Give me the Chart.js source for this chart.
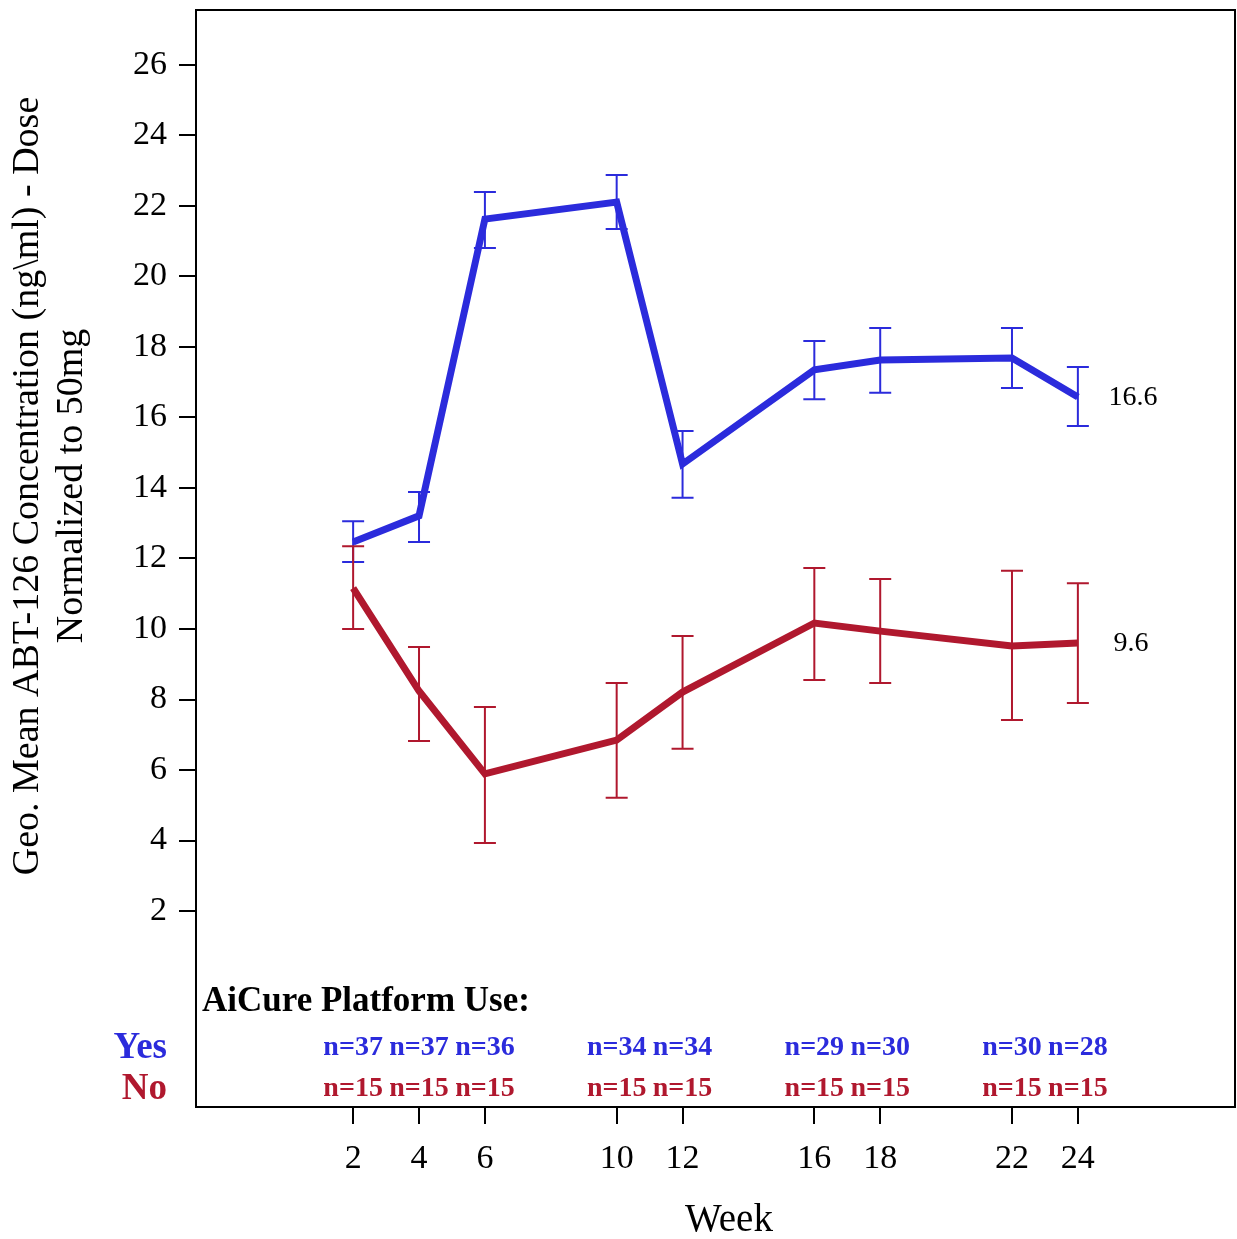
<!DOCTYPE html>
<html>
<head>
<meta charset="utf-8">
<script src="https://cdn.jsdelivr.net/npm/chart.js@4"></script>
<style>
  html, body { margin: 0; padding: 0; background: #fff; }
</style>
</head>
<body>
<canvas id="chart" width="1237" height="1239"></canvas>
<script>
const weeks = [2, 4, 6, 10, 12, 16, 18, 22, 24];
const yesMean = [12.47, 13.21, 21.63, 22.11, 14.68, 17.35, 17.63, 17.69, 16.58];
const yesUpper = [13.06, 13.89, 22.4, 22.88, 15.62, 18.17, 18.54, 18.54, 17.43];
const yesLower = [11.9, 12.47, 20.81, 21.35, 13.72, 16.52, 16.7, 16.84, 15.76];
const noMean = [11.16, 8.24, 5.89, 6.85, 8.21, 10.17, 9.94, 9.52, 9.6];
const noUpper = [12.35, 9.49, 7.79, 8.47, 9.8, 11.73, 11.42, 11.65, 11.3];
const noLower = [10.0, 6.82, 3.93, 5.21, 6.6, 8.55, 8.47, 7.42, 7.9];
const yesN = [37, 37, 36, 34, 34, 29, 30, 30, 28];
const noN = [15, 15, 15, 15, 15, 15, 15, 15, 15];
const yTicks = [2, 4, 6, 8, 10, 12, 14, 16, 18, 20, 22, 24, 26];
const endLabels = ["16.6", "9.6"];

const BLUE = "rgb(43, 43, 220)";
const RED = "rgb(176, 24, 46)";
const SERIF = "'Liberation Serif', 'Times New Roman', serif";

// エラーバー・枠・注記
const extras = {
  id: "extras",
  beforeDatasetsDraw(chart) {
    const ctx = chart.ctx;
    const xs = chart.scales.x, ys = chart.scales.y;
    const bars = [[yesUpper, yesLower, BLUE], [noUpper, noLower, RED]];
    ctx.save();
    ctx.lineWidth = 2;
    bars.forEach(([up, lo, col]) => {
      ctx.strokeStyle = col;
      weeks.forEach((w, i) => {
        const x = xs.getPixelForValue(w);
        const y1 = ys.getPixelForValue(up[i]);
        const y2 = ys.getPixelForValue(lo[i]);
        ctx.beginPath();
        ctx.moveTo(x, y1); ctx.lineTo(x, y2);
        ctx.moveTo(x - 11, y1); ctx.lineTo(x + 11, y1);
        ctx.moveTo(x - 11, y2); ctx.lineTo(x + 11, y2);
        ctx.stroke();
      });
    });
    ctx.restore();
  },
  afterDraw(chart) {
    const ctx = chart.ctx;
    const a = chart.chartArea;
    const xs = chart.scales.x, ys = chart.scales.y;
    ctx.save();
    ctx.strokeStyle = "#000";
    ctx.lineWidth = 2;
    ctx.strokeRect(a.left, a.top, a.right - a.left, a.bottom - a.top);

    // end labels
    ctx.fillStyle = "#000";
    ctx.font = "28px " + SERIF;
    ctx.textAlign = "center";
    ctx.textBaseline = "middle";
    const last = weeks.length - 1;
    ctx.fillText(endLabels[0], 1133, ys.getPixelForValue(yesMean[last]) + 1);
    ctx.fillText(endLabels[1], 1131, ys.getPixelForValue(noMean[last]) + 1);

    // n table
    ctx.font = "bold 35px " + SERIF;
    ctx.textAlign = "left";
    ctx.fillText("AiCure Platform Use:", 202, 1002);
    ctx.textAlign = "right";
    ctx.font = "bold 37px " + SERIF;
    ctx.fillStyle = BLUE;
    ctx.fillText("Yes", 167, 1048);
    ctx.fillStyle = RED;
    ctx.fillText("No", 167, 1089);
    ctx.font = "bold 28px " + SERIF;
    ctx.textAlign = "center";
    weeks.forEach((w, i) => {
      const x = xs.getPixelForValue(w);
      ctx.fillStyle = BLUE;
      ctx.fillText("n=" + yesN[i], x, 1048);
      ctx.fillStyle = RED;
      ctx.fillText("n=" + noN[i], x, 1089);
    });

    // axis titles
    ctx.fillStyle = "#000";
    ctx.font = "39px " + SERIF;
    ctx.fillText("Week", 729, 1221);
    ctx.font = "38px " + SERIF;
    ctx.translate(28, 486);
    ctx.rotate(-Math.PI / 2);
    ctx.fillText("Geo. Mean ABT-126 Concentration (ng\\ml) - Dose", 0, 0);
    ctx.fillText("Normalized to 50mg", 0, 44);
    ctx.restore();
  },
};

new Chart(document.getElementById("chart"), {
  type: "line",
  data: {
    datasets: [
      {
        label: "Yes",
        data: weeks.map((w, i) => ({ x: w, y: yesMean[i] })),
        borderColor: BLUE,
        borderWidth: 7,
        pointRadius: 0,
        tension: 0,
      },
      {
        label: "No",
        data: weeks.map((w, i) => ({ x: w, y: noMean[i] })),
        borderColor: RED,
        borderWidth: 7,
        pointRadius: 0,
        tension: 0,
      },
    ],
  },
  options: {
    responsive: false,
    animation: false,
    layout: { padding: { top: 10, right: 2, left: 0, bottom: 0 } },
    plugins: {
      legend: { display: false },
      tooltip: { enabled: false },
    },
    scales: {
      x: {
        type: "linear",
        min: -2.77,
        max: 28.77,
        afterFit: (s) => { s.height = 132; s.paddingLeft = 0; s.paddingRight = 0; },
        afterBuildTicks: (s) => { s.ticks = weeks.map((v) => ({ value: v })); },
        border: { display: false },
        grid: { drawOnChartArea: false, drawTicks: true, tickLength: 17, color: "#000", lineWidth: 2 },
        ticks: { color: "#000", font: { family: SERIF, size: 34 }, padding: 15, maxRotation: 0, autoSkip: false },
      },
      y: {
        min: -3.56,
        max: 27.56,
        afterFit: (s) => { s.width = 196; s.paddingTop = 0; s.paddingBottom = 0; },
        afterBuildTicks: (s) => { s.ticks = yTicks.map((v) => ({ value: v })); },
        border: { display: false },
        grid: { drawOnChartArea: false, drawTicks: true, tickLength: 17, color: "#000", lineWidth: 2 },
        ticks: { color: "#000", font: { family: SERIF, size: 34 }, padding: 12 },
      },
    },
  },
  plugins: [extras],
});
</script>
</body>
</html>
